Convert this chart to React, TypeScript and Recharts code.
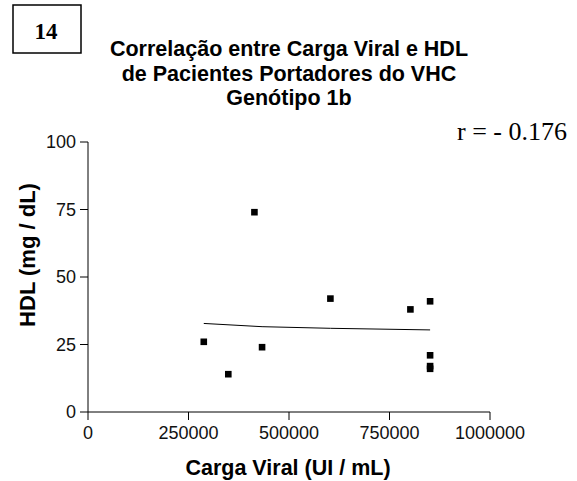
import { ScatterChart, Scatter, XAxis, YAxis } from "recharts";

// carga viral (UI/mL) x HDL (mg/dL)
const cargaViral = [288000, 349000, 414000, 433000, 603000, 802000, 851000, 851000, 851000, 851000];
const hdl = [26, 14, 74, 24, 42, 38, 41, 21, 17, 16];

// linha de tendencia
const trendX = [288000, 433000, 603000, 851000];
const trendY = [32.8, 31.6, 31.0, 30.4];

const xTicks = [0, 250000, 500000, 750000, 1000000];
const yTicks = [0, 25, 50, 75, 100];

const titleLines = ["Correlação entre Carga Viral e HDL", "de Pacientes Portadores do VHC", "Genótipo 1b"];

const pontos = cargaViral.map((x, i) => ({ x, y: hdl[i] }));
const tendencia = trendX.map((x, i) => ({ x, y: trendY[i] }));

const sans = "'Liberation Sans', Arial, sans-serif";
const serif = "'Liberation Serif', 'Times New Roman', serif";

const Quadrado = (props: any) => {
    const { cx, cy } = props;
    if (cx == null || cy == null) return null;
    return <rect x={cx - 3.3} y={cy - 3.3} width={6.6} height={6.6} fill="#000" />;
};

export default function App() {
    return (
        <div style={{ position: "absolute", left: 0, top: 0, width: 577, height: 481, background: "#fff" }}>
            <ScatterChart
                width={577}
                height={481}
                margin={{ top: 142, right: 87, bottom: 39, left: 28 }}
            >
                <XAxis
                    type="number"
                    dataKey="x"
                    domain={[0, 1000000]}
                    ticks={xTicks}
                    interval={0}
                    height={30}
                    stroke="#000"
                    tickSize={8}
                    tickMargin={6}
                    tick={{ fill: "#111", fontSize: 18, fontFamily: sans }}
                />
                <YAxis
                    type="number"
                    dataKey="y"
                    domain={[0, 100]}
                    ticks={yTicks}
                    interval={0}
                    width={60}
                    stroke="#000"
                    tickSize={8}
                    tickMargin={4}
                    tick={{ fill: "#111", fontSize: 18, fontFamily: sans }}
                />
                <Scatter data={pontos} shape={Quadrado} isAnimationActive={false} />
                <Scatter
                    data={tendencia}
                    line={{ stroke: "#000", strokeWidth: 1 }}
                    shape={() => null}
                    isAnimationActive={false}
                />
            </ScatterChart>
            <svg width={577} height={481} style={{ position: "absolute", left: 0, top: 0, pointerEvents: "none" }}>
                <rect x={13} y={5} width={68} height={48} fill="none" stroke="#000" strokeWidth={1.5} />
                <text x={46} y={31} textAnchor="middle" dominantBaseline="central" fontFamily={serif} fontWeight="bold" fontSize={23}>
                    14
                </text>
                {titleLines.map((t, i) => (
                    <text
                        key={t}
                        x={289}
                        y={49 + i * 24.5}
                        textAnchor="middle"
                        dominantBaseline="central"
                        fontFamily={sans}
                        fontWeight="bold"
                        fontSize={21.5}
                    >
                        {t}
                    </text>
                ))}
                <text x={567} y={140} textAnchor="end" fontFamily={serif} fontSize={26}>
                    r = - 0.176
                </text>
                <text x={288} y={468} textAnchor="middle" dominantBaseline="central" fontFamily={sans} fontWeight="bold" fontSize={21.5}>
                    Carga Viral (UI / mL)
                </text>
                <text
                    x={27}
                    y={255}
                    transform="rotate(-90 27 255)"
                    textAnchor="middle"
                    dominantBaseline="central"
                    fontFamily={sans}
                    fontWeight="bold"
                    fontSize={22}
                >
                    HDL (mg / dL)
                </text>
            </svg>
        </div>
    );
}
